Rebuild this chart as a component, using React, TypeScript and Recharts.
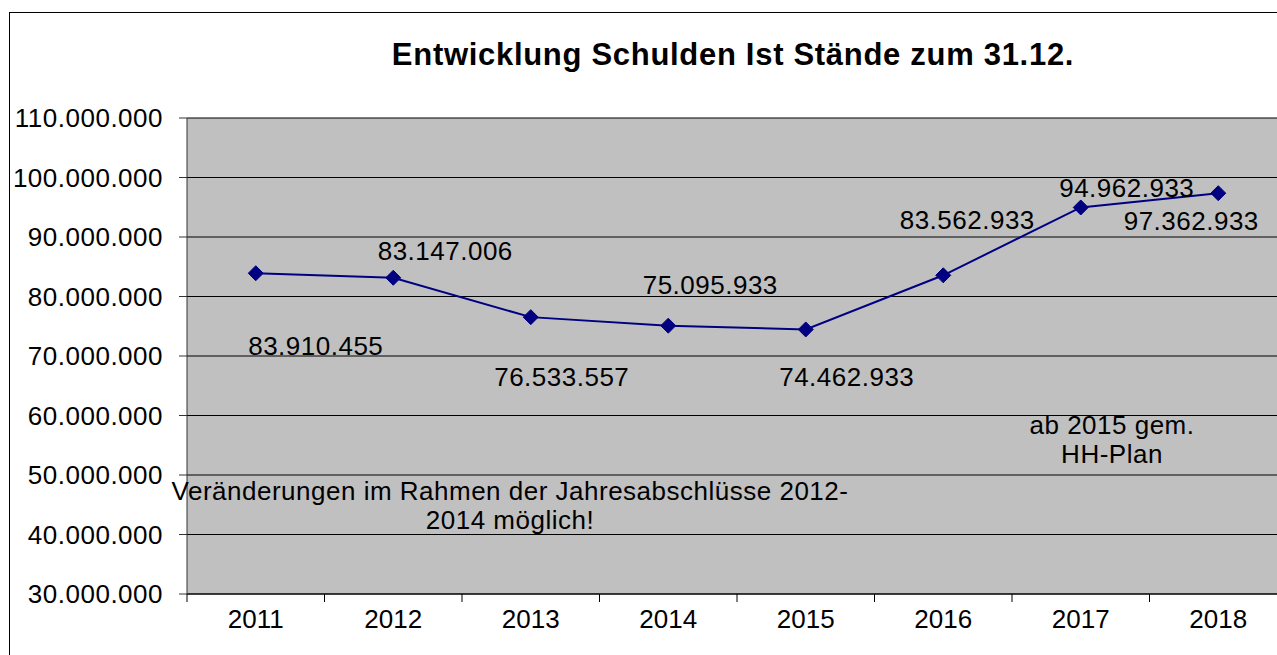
import { LineChart, Line, XAxis, YAxis, CartesianGrid, LabelList } from "recharts";

const years = ["2011", "2012", "2013", "2014", "2015", "2016", "2017", "2018"];
const debts = [83910455, 83147006, 76533557, 75095933, 74462933, 83562933, 94962933, 97362933];
const yTicks = [30000000, 40000000, 50000000, 60000000, 70000000, 80000000, 90000000, 100000000, 110000000];

// label placement relative to the marker (hand-moved in the original)
const labelShift: [number, number][] = [
  [60, 73], [52, -27], [31, 60], [42, -41], [41, 48], [24, -55], [46, -19], [-27, 28],
];

const FONT = '"Liberation Sans", Arial, sans-serif';
const CHART_W = 1300;
const CHART_H = 655;
const PLOT_LEFT = 187;
const PLOT_RIGHT = 1287;
const PLOT_BOTTOM = 594;
const NAVY = "#000080";
const HALF_BAND = (PLOT_RIGHT - PLOT_LEFT) / years.length / 2;

const data = years.map((year, i) => ({ year, value: debts[i] }));

const fmt = (v: number) => String(Math.round(v)).replace(/\B(?=(\d{3})+(?!\d))/g, ".");

function YearTick(props: any) {
  const { x, payload } = props;
  return (
    <g>
      <line x1={x - HALF_BAND} x2={x - HALF_BAND} y1={PLOT_BOTTOM} y2={PLOT_BOTTOM + 8} stroke="#000" />
      <text
        x={x}
        y={619}
        textAnchor="middle"
        dominantBaseline="central"
        fontSize={26}
        fill="#000"
        fontFamily={FONT}
      >
        {payload.value}
      </text>
    </g>
  );
}

function Diamond(props: any) {
  const { cx, cy } = props;
  if (cx == null || cy == null) return null;
  const r = 7.5;
  return (
    <polygon
      points={`${cx},${cy - r} ${cx + r},${cy} ${cx},${cy + r} ${cx - r},${cy}`}
      fill={NAVY}
      stroke={NAVY}
    />
  );
}

function ValueLabel(props: any) {
  const { x, y, value, index } = props;
  const [dx, dy] = labelShift[index] || [0, -20];
  return (
    <text
      x={x + dx}
      y={y + dy}
      textAnchor="middle"
      dominantBaseline="central"
      fontSize={26}
      letterSpacing={0.5}
      fill="#000"
      fontFamily={FONT}
    >
      {fmt(value)}
    </text>
  );
}

const note: React.CSSProperties = {
  position: "absolute",
  transform: "translate(-50%, -50%)",
  whiteSpace: "nowrap",
  fontFamily: FONT,
  fontSize: 26,
  letterSpacing: 0.5,
  color: "#000",
  lineHeight: "29px",
  textAlign: "center",
};

export default function App() {
  return (
    <div
      style={{
        position: "fixed",
        left: 0,
        top: 0,
        width: 1277,
        height: 655,
        overflow: "hidden",
        background: "#fff",
        fontFamily: FONT,
      }}
    >
      <div
        style={{
          position: "absolute",
          left: 9,
          top: 12,
          width: 1400,
          height: 800,
          border: "1px solid #000",
        }}
      />
      <div style={{ position: "absolute", left: 0, top: 0 }}>
        <LineChart
          width={CHART_W}
          height={CHART_H}
          data={data}
          margin={{ top: 118, right: CHART_W - PLOT_RIGHT, bottom: 21, left: 0 }}
        >
          <CartesianGrid vertical={false} fill="#C0C0C0" fillOpacity={1} stroke="#000" strokeOpacity={1} />
          <XAxis
            dataKey="year"
            height={40}
            padding={{ left: HALF_BAND, right: HALF_BAND }}
            axisLine={{ stroke: "#000" }}
            tickLine={false}
            tick={<YearTick />}
            interval={0}
          />
          <YAxis
            width={PLOT_LEFT}
            domain={[30000000, 110000000]}
            ticks={yTicks}
            interval={0}
            tickFormatter={fmt}
            tickSize={8}
            tickMargin={16}
            axisLine={{ stroke: "#333" }}
            tickLine={{ stroke: "#333" }}
            tick={{ fill: "#000", fontSize: 26, fontFamily: FONT, letterSpacing: 0.5 }}
          />
          <Line
            dataKey="value"
            stroke={NAVY}
            strokeWidth={2}
            dot={<Diamond />}
            activeDot={false}
            isAnimationActive={false}
          >
            <LabelList dataKey="value" content={<ValueLabel />} />
          </Line>
        </LineChart>
      </div>
      <div
        style={{
          position: "absolute",
          left: 733,
          top: 55,
          transform: "translate(-50%, -50%)",
          whiteSpace: "nowrap",
          fontFamily: FONT,
          fontWeight: "bold",
          fontSize: 31,
          letterSpacing: 0.7,
        }}
      >
        Entwicklung Schulden Ist Stände zum 31.12.
      </div>
      <div style={{ ...note, left: 510, top: 506 }}>
        Veränderungen im Rahmen der Jahresabschlüsse 2012-
        <br />
        2014 möglich!
      </div>
      <div style={{ ...note, left: 1112, top: 440 }}>
        ab 2015 gem.
        <br />
        HH-Plan
      </div>
    </div>
  );
}
